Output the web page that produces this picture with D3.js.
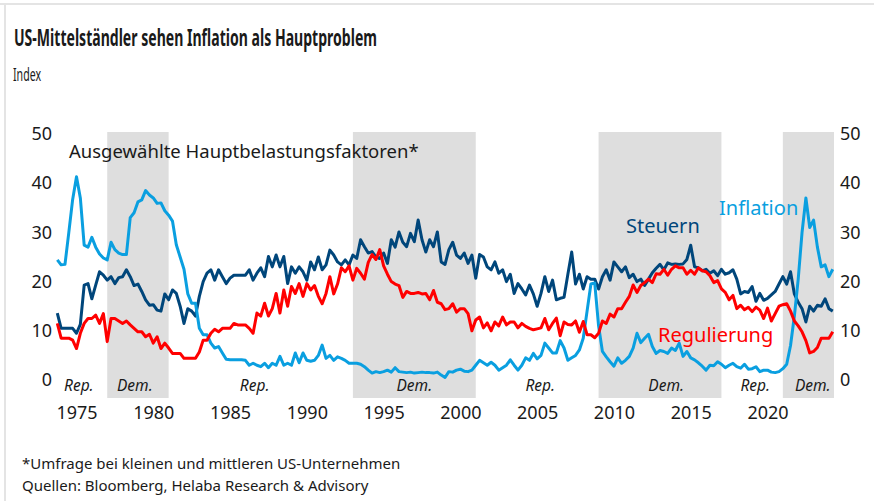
<!DOCTYPE html>
<meta charset="utf-8">
<script src="https://d3js.org/d3.v7.min.js"></script>
<style>
  body { margin: 0; background: #fff; }
  text { font-family: "Noto Sans", sans-serif; fill: #1a1a1a; }
</style>
<div id="chart"></div>
<script>

// quarterly values, first point = Q4 1973
var startYear = 1973.75;

var inflation = [
  24.4,
  23.4, 23.5, 30.0, 36.7,  // 1974
  41.3, 37.0, 27.4, 27.0,  // 1975
  29.0, 27.0, 25.6, 24.8,  // 1976
  24.4, 28.0, 26.5, 25.8,  // 1977
  25.5, 25.5, 33.0, 34.0,  // 1978
  36.2, 36.6, 38.5, 37.6,  // 1979
  37.0, 35.9, 36.0, 34.4,  // 1980
  33.5, 32.3, 27.5, 25.0,  // 1981
  22.5, 17.5, 15.6, 15.6,  // 1982
  10.5, 9.2, 9.2, 7.5,     // 1983
  6.5, 6.8, 5.5, 4.2,      // 1984
  4.1, 4.1, 4.1, 4.1,      // 1985
  4.0, 3.0, 3.4, 3.0,      // 1986
  2.7, 3.4, 2.5, 3.4,      // 1987
  3.0, 4.8, 3.0, 3.4,      // 1988
  3.0, 5.5, 3.5, 5.5,      // 1989
  4.0, 3.8, 4.0, 5.0,      // 1990
  7.1, 4.4, 5.0, 4.0,      // 1991
  4.7, 4.4, 4.0, 3.4,      // 1992
  3.4, 3.4, 3.2, 2.7,      // 1993
  2.0, 1.4, 1.7, 1.5,      // 1994
  1.7, 2.0, 1.6, 2.5,      // 1995
  1.7, 1.6, 1.5, 1.6,      // 1996
  1.4, 1.5, 1.6, 1.5,      // 1997
  1.5, 1.4, 1.6, 1.0,      // 1998
  0.5, 1.7, 1.6, 2.0,      // 1999
  2.2, 1.8, 1.7, 2.0,      // 2000
  3.0, 4.0, 3.5, 3.0,      // 2001
  3.6, 3.0, 2.0, 2.5,      // 2002
  3.0, 4.1, 3.0, 2.0,      // 2003
  3.0, 4.5, 4.0, 5.4,      // 2004
  4.3, 5.0, 7.5, 6.5,      // 2005
  5.5, 5.5, 8.0, 6.5,      // 2006
  4.0, 4.5, 5.0, 6.1,      // 2007
  8.5, 14.0, 19.5, 19.7,   // 2008
  11.0, 5.8, 4.7, 3.7,     // 2009
  2.8, 4.5, 3.4, 4.0,      // 2010
  4.8, 6.5, 9.5, 7.6,      // 2011
  8.5, 9.3, 6.8, 5.4,      // 2012
  6.0, 5.8, 5.4, 6.5,      // 2013
  6.0, 7.5, 4.8, 5.8,      // 2014
  4.5, 4.1, 3.5, 2.8,      // 2015
  2.0, 3.0, 2.9, 3.7,      // 2016
  3.2, 2.5, 3.0, 3.4,      // 2017
  2.7, 2.4, 3.2, 2.2,      // 2018
  2.3, 2.7, 1.7, 2.0,      // 2019
  2.0, 1.6, 1.5, 1.7,      // 2020
  2.3, 3.2, 7.0, 13.0,     // 2021
  20.5, 30.0, 37.0, 31.0,  // 2022
  32.5, 27.0, 23.0, 23.4,  // 2023
  21.0, 22.5               // 2024
];

var steuern = [
  13.6,
  10.5, 10.5, 10.5, 10.5,  // 1974
  9.5, 11.3, 19.3, 19.6,   // 1975
  16.5, 19.3, 22.0, 21.3,  // 1976
  20.3, 21.0, 19.6, 20.8,  // 1977
  21.0, 22.4, 21.0, 19.2,  // 1978
  19.5, 18.0, 16.3, 15.2,  // 1979
  15.3, 14.2, 14.0, 17.5,  // 1980
  16.3, 18.3, 17.6, 15.0,  // 1981
  11.5, 14.5, 14.0, 13.0,  // 1982
  17.0, 20.0, 21.7, 22.4,  // 1983
  20.3, 22.4, 21.0, 19.6,  // 1984
  20.7, 21.3, 21.3, 21.3,  // 1985
  21.3, 22.4, 20.3, 21.7,  // 1986
  22.8, 21.0, 25.1, 23.0,  // 1987
  25.4, 23.0, 25.1, 19.6,  // 1988
  23.0, 21.7, 23.0, 22.0,  // 1989
  20.3, 24.0, 22.4, 25.0,  // 1990
  22.4, 23.4, 26.4, 25.4,  // 1991
  24.0, 23.4, 24.4, 23.4,  // 1992
  25.4, 24.7, 28.5, 27.1,  // 1993
  25.8, 26.1, 25.0, 24.7,  // 1994
  25.8, 23.7, 28.5, 27.0,  // 1995
  30.1, 28.0, 27.1, 29.8,  // 1996
  28.1, 32.5, 28.5, 26.0,  // 1997
  28.5, 27.1, 30.1, 24.0,  // 1998
  23.5, 26.5, 28.0, 25.4,  // 1999
  24.7, 25.8, 23.7, 25.4,  // 2000
  20.7, 25.5, 25.0, 23.0,  // 2001
  22.4, 24.0, 21.7, 22.4,  // 2002
  20.0, 21.5, 17.6, 19.6,  // 2003
  18.5, 17.3, 19.3, 17.5,  // 2004
  15.0, 17.6, 21.0, 18.0,  // 2005
  20.3, 16.3, 16.6, 16.8,  // 2006
  21.5, 26.0, 19.5, 21.5,  // 2007
  18.5, 21.0, 20.5, 20.5,  // 2008
  18.5, 21.0, 22.4, 20.3,  // 2009
  24.0, 23.0, 22.0, 23.0,  // 2010
  20.8, 21.5, 20.0, 20.5,  // 2011
  19.2, 20.5, 21.8, 22.7,  // 2012
  23.5, 22.4, 23.8, 23.5,  // 2013
  23.6, 23.5, 23.6, 24.5,  // 2014
  27.4, 23.0, 22.8, 22.2,  // 2015
  22.5, 21.7, 22.2, 21.2,  // 2016
  22.5, 21.5, 21.8, 22.4,  // 2017
  20.5, 17.5, 18.0, 17.8,  // 2018
  19.0, 16.0, 17.6, 16.2,  // 2019
  16.6, 17.3, 18.0, 19.5,  // 2020
  21.0, 19.5, 22.0, 17.5,  // 2021
  15.8, 14.5, 11.8, 15.0,  // 2022
  14.0, 15.2, 15.0, 16.5,  // 2023
  14.5, 14.0               // 2024
];

var regulierung = [
  11.5,
  8.5, 8.5, 8.5, 8.1,      // 1974
  6.4, 9.5, 11.5, 12.5,    // 1975
  12.5, 13.2, 11.5, 13.5,  // 1976
  7.8, 12.5, 12.5, 12.0,   // 1977
  11.5, 12.0, 11.2, 10.5,  // 1978
  9.8, 9.8, 8.8, 9.3,      // 1979
  7.5, 8.8, 6.4, 7.5,      // 1980
  6.5, 5.4, 5.4, 5.4,      // 1981
  4.4, 4.4, 4.4, 4.4,      // 1982
  5.7, 8.1, 8.1, 9.5,      // 1983
  10.3, 9.8, 10.5, 10.5,   // 1984
  10.5, 11.5, 11.2, 11.2,  // 1985
  11.2, 10.5, 9.5, 13.6,   // 1986
  13.0, 15.6, 13.0, 14.5,  // 1987
  17.6, 13.6, 18.3, 15.0,  // 1988
  19.0, 17.6, 19.6, 17.0,  // 1989
  19.6, 18.3, 19.2, 17.0,  // 1990
  15.5, 17.6, 21.0, 17.5,  // 1991
  19.5, 22.8, 22.0, 23.2,  // 1992
  20.3, 22.7, 21.7, 20.5,  // 1993
  23.9, 25.5, 24.5, 26.5,  // 1994
  23.2, 21.5, 20.0, 19.5,  // 1995
  19.2, 16.8, 18.0, 17.6,  // 1996
  17.6, 17.8, 17.5, 17.6,  // 1997
  16.3, 18.2, 15.8, 15.5,  // 1998
  14.3, 14.5, 15.5, 13.8,  // 1999
  14.5, 14.5, 13.5, 10.0,  // 2000
  12.2, 12.8, 10.6, 11.6,  // 2001
  10.0, 11.8, 11.0, 12.8,  // 2002
  11.2, 11.8, 11.8, 10.6,  // 2003
  11.5, 10.9, 10.5, 10.2,  // 2004
  10.4, 10.6, 12.5, 10.2,  // 2005
  11.5, 12.6, 9.0, 11.8,   // 2006
  11.3, 11.2, 12.0, 9.7,   // 2007
  11.9, 9.2, 9.2, 8.6,     // 2008
  9.5, 12.0, 11.5, 13.4,   // 2009
  12.8, 14.5, 14.5, 15.8,  // 2010
  17.0, 19.3, 17.8, 19.2,  // 2011
  19.8, 20.5, 19.8, 21.6,  // 2012
  21.5, 22.5, 21.3, 22.5,  // 2013
  23.2, 22.8, 22.8, 21.5,  // 2014
  22.3, 21.5, 22.8, 22.2,  // 2015
  22.0, 21.2, 19.8, 20.2,  // 2016
  18.5, 17.8, 16.3, 17.2,  // 2017
  14.5, 15.2, 14.3, 14.8,  // 2018
  13.9, 14.8, 14.2, 12.5,  // 2019
  14.6, 12.0, 13.5, 15.0,  // 2020
  15.3, 15.5, 14.0, 12.0,  // 2021
  11.0, 9.8, 8.0, 5.5,     // 2022
  5.8, 6.6, 8.5, 8.5,      // 2023
  8.5, 9.8                 // 2024
];

// democratic presidencies (shaded)
var demStart = [1977, 1993, 2009, 2021];
var demEnd   = [1981, 2001, 2017, 2024.33];

// party labels along the bottom
var partyLabels = ["Rep.", "Dem.", "Rep.", "Dem.", "Rep.", "Dem.", "Rep.", "Dem."];
var partyPos    = [1975.15, 1978.8, 1986.6, 1997.0, 2005.2, 2013.4, 2019.2, 2022.95];

var yearTicks = [1975, 1980, 1985, 1990, 1995, 2000, 2005, 2010, 2015, 2020];
var valueTicks = [0, 10, 20, 30, 40, 50];

var cNavy = "#00467b", cBlue = "#0a9fe0", cRed = "#ff0000";

var width = 874, height = 501;

var svg = d3.select("#chart")
  .append("svg")
    .attr("width", width)
    .attr("height", height);

svg.append("rect").attr("width", width).attr("height", height).attr("fill", "#fff");
// light frame on top and left
svg.append("rect").attr("x", 0).attr("y", 3).attr("width", width).attr("height", 2).attr("fill", "#e4e4e4");
svg.append("rect").attr("x", 4).attr("y", 3).attr("width", 2).attr("height", height).attr("fill", "#e4e4e4");

var x = d3.scaleLinear().domain([1975, 2020]).range([76.5, 767.5]);
var y = d3.scaleLinear().domain([0, 50]).range([380, 134]);
var plotTop = 132, plotBottom = 398;

// shading
svg.append("g")
  .selectAll("rect")
  .data(demStart)
  .enter()
  .append("rect")
    .attr("x", function (d) { return x(d); })
    .attr("width", function (d, i) { return x(demEnd[i]) - x(d); })
    .attr("y", plotTop)
    .attr("height", plotBottom - plotTop)
    .attr("fill", "#dedede");

// party labels
svg.append("g")
  .selectAll("text")
  .data(partyLabels)
  .enter()
  .append("text")
    .attr("x", function (d, i) { return x(partyPos[i]); })
    .attr("y", 391)
    .attr("text-anchor", "middle")
    .style("font-style", "italic")
    .style("font-size", "15.5px")
    .text(function (d) { return d; });

// axes
var left = svg.append("g")
  .attr("transform", "translate(52,0)")
  .call(d3.axisLeft(y).tickValues(valueTicks).tickSize(0).tickPadding(0));
var right = svg.append("g")
  .attr("transform", "translate(840,0)")
  .call(d3.axisRight(y).tickValues(valueTicks).tickSize(0).tickPadding(0));
var bottom = svg.append("g")
  .attr("transform", "translate(0,418.5)")
  .call(d3.axisBottom(x).tickValues(yearTicks).tickFormat(d3.format("d")).tickSize(0).tickPadding(0));
bottom.selectAll("text").attr("y", 0).attr("dy", 0);

[left, right, bottom].forEach(function (g) {
  g.select(".domain").remove();
  g.selectAll("text")
    .style("font-family", "'Noto Sans', sans-serif")
    .style("font-size", "18px")
    .attr("fill", "#1a1a1a");
});

// lines
var line = d3.line()
  .x(function (d, i) { return x(startYear + i * 0.25); })
  .y(function (d) { return y(d); });

var series = [
  { values: steuern, color: cNavy },
  { values: inflation, color: cBlue },
  { values: regulierung, color: cRed }
];

svg.append("g")
  .selectAll("path")
  .data(series)
  .enter()
  .append("path")
    .attr("d", function (d) { return line(d.values); })
    .attr("fill", "none")
    .attr("stroke", function (d) { return d.color; })
    .attr("stroke-width", 3)
    .attr("stroke-linejoin", "round");

// series labels
svg.append("text").attr("x", 626).attr("y", 232.5).style("font-size", "20px").style("fill", cNavy).text("Steuern");
svg.append("text").attr("x", 719).attr("y", 214.5).style("font-size", "20px").style("fill", cBlue).text("Inflation");
svg.append("text").attr("x", 658).attr("y", 342).style("font-size", "20px").style("fill", cRed).text("Regulierung");

svg.append("text").attr("x", 69).attr("y", 157.5).style("font-size", "18.5px")
  .text("Ausgewählte Hauptbelastungsfaktoren*");

// title block
svg.append("text").attr("x", 14).attr("y", 45.5)
  .style("font-size", "23px").style("font-weight", "bold")
  .attr("textLength", 363).attr("lengthAdjust", "spacingAndGlyphs")
  .text("US-Mittelständler sehen Inflation als Hauptproblem");
svg.append("text").attr("x", 13).attr("y", 80.5)
  .style("font-size", "18px")
  .attr("textLength", 28).attr("lengthAdjust", "spacingAndGlyphs")
  .text("Index");

// footer
svg.append("text").attr("x", 22).attr("y", 469).style("font-size", "15px")
  .text("*Umfrage bei kleinen und mittleren US-Unternehmen");
svg.append("text").attr("x", 22).attr("y", 491).style("font-size", "15px")
  .text("Quellen: Bloomberg, Helaba Research & Advisory");

</script>
